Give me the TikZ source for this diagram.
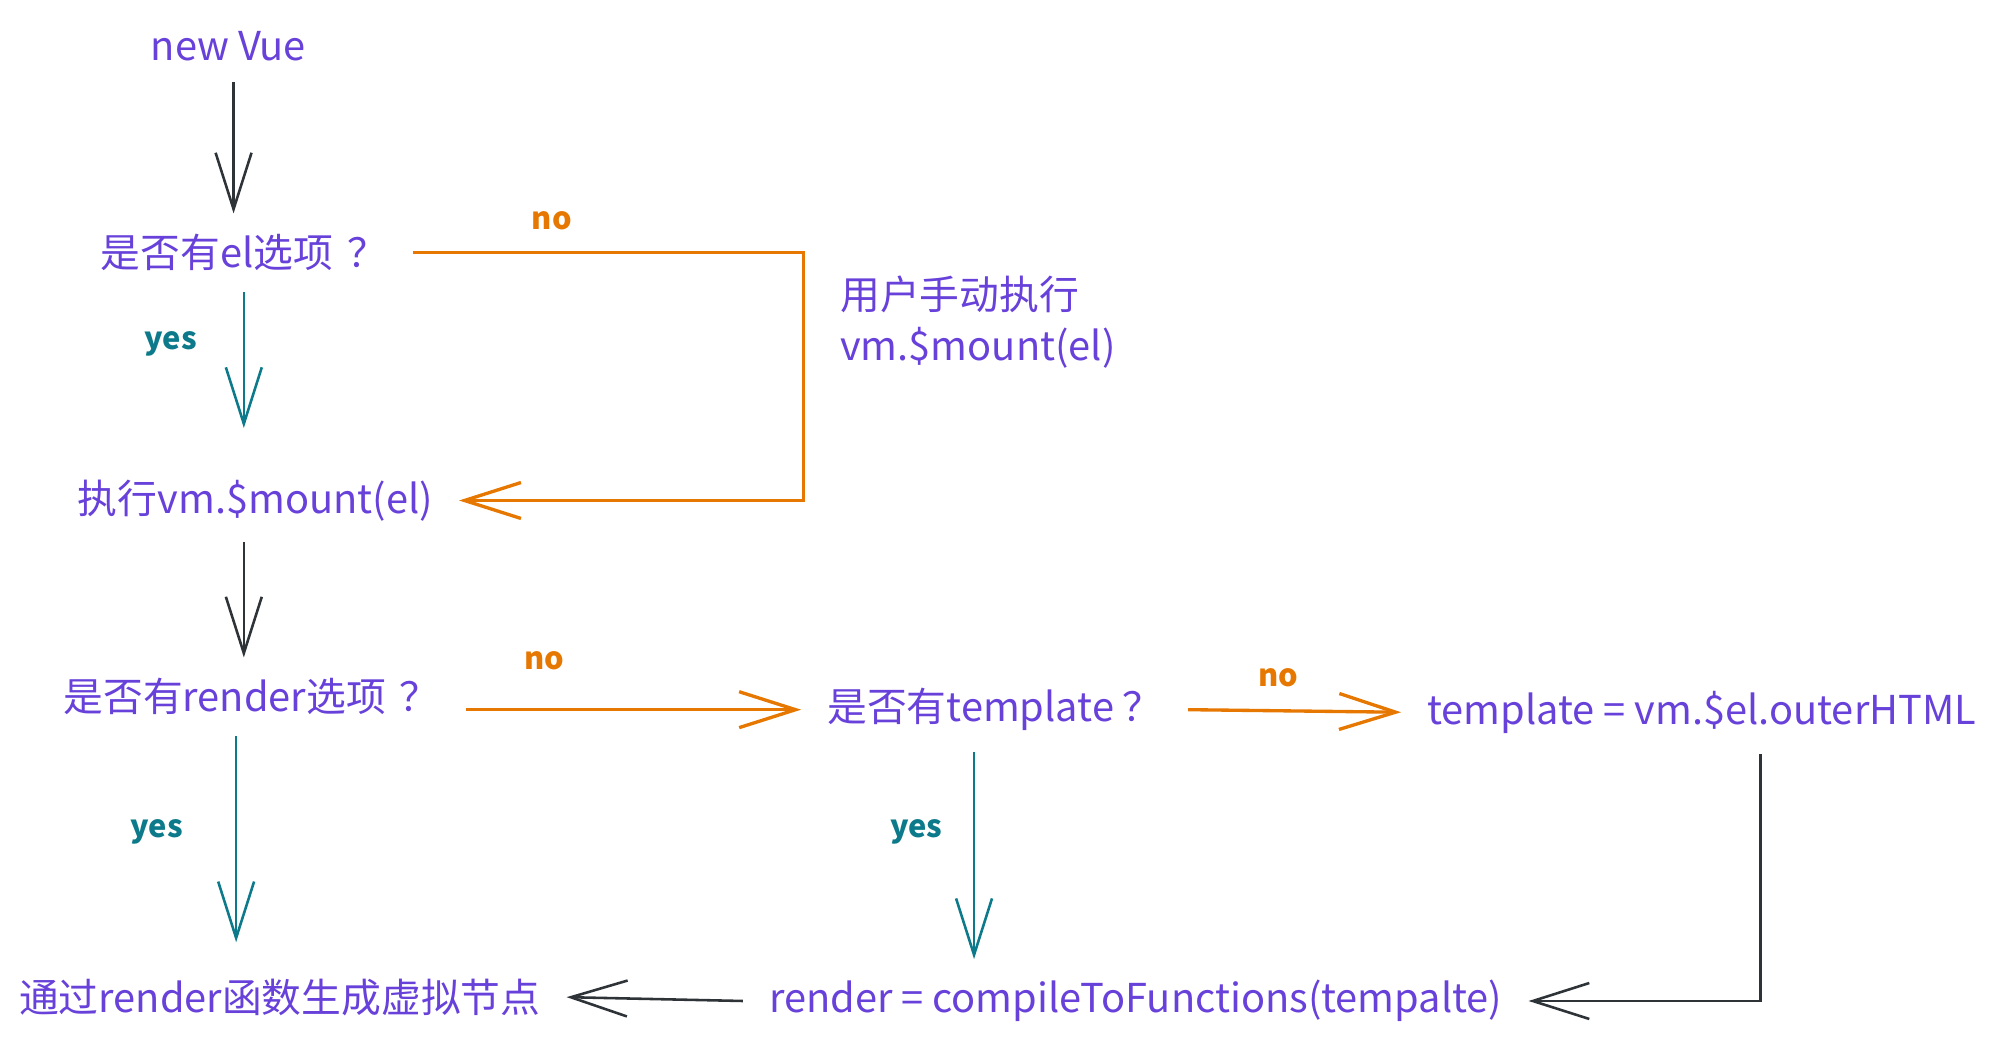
\documentclass[tikz,border=0pt]{standalone}
\usepackage{fontspec}
\setmainfont{Noto Sans CJK SC}
\usepackage{xcolor}
\usetikzlibrary{positioning}
\usetikzlibrary{arrows.meta}
\definecolor{textviolet}{HTML}{6741D9}
\definecolor{lineorange}{HTML}{E67700}
\definecolor{lineteal}{HTML}{0C7A8A}
\definecolor{linedark}{HTML}{2E3338}
\tikzset{>={Straight Barb[width=14pt,length=22pt]}}

\begin{document}
\begin{tikzpicture}[x=1pt, y=1pt, on grid, textnode/.style={text=textviolet, font=\fontsize{15.5}{20}\selectfont, inner xsep=10pt, inner ysep=8pt}, labelnode/.style={font=\fontsize{12}{14}\selectfont\bfseries, inner sep=0pt}, yesline/.style={->, draw=lineteal, line width=1pt}, noline/.style={->, draw=lineorange, line width=1.3pt}, plainline/.style={->, draw=linedark, line width=1pt}]

    \useasboundingbox (0,0) rectangle (780,-406);

    %Nodes
    \node[textnode](newvue) at (89,-18){new Vue};
    \node[textnode](has_el)[below right=80.5pt and 6pt of newvue]{是否有el选项\hspace{0.35em}？};
    \node[textnode](mount)[below right=96.5pt and 4.5pt of has_el]{执行vm.\$mount(el)};
    \node[textnode](has_render)[below left=76.5pt and 1.5pt of mount]{是否有render选项\hspace{0.35em}？};
    \node[textnode](vnode)[below right=117pt and 11pt of has_render]{通过render函数生成虚拟节点};
    \node[textnode](has_template)[below right=5pt and 289.5pt of has_render]{是否有template\hspace{0.2em}？};
    \node[textnode](outer_html)[below right=1pt and 275.5pt of has_template]{template = vm.\$el.outerHTML};
    \node[textnode](compile)[below right=113.5pt and 55pt of has_template]{render = compileToFunctions(tempalte)};
    \node[textnode, align=left](manual_text)[below right=27pt and 286pt of has_el]{用户手动执行\\vm.\$mount(el)};

    \node[labelnode, text=lineorange](no_el)[above right=12.5pt and 120pt of has_el]{no};
    \node[labelnode, text=lineteal](yes_el)[below left=35.5pt and 28.5pt of has_el]{yes};
    \node[labelnode, text=lineorange](no_render)[above right=14pt and 114pt of has_render]{no};
    \node[labelnode, text=lineteal](yes_render)[below left=52.5pt and 37pt of has_render]{yes};
    \node[labelnode, text=lineorange](no_template)[above right=12.5pt and 110.5pt of has_template]{no};
    \node[labelnode, text=lineteal](yes_template)[below left=47.5pt and 30.5pt of has_template]{yes};

    \coordinate[right=218pt of has_el](loop_corner);
    \coordinate[right=23pt of outer_html](html_bend);

    %Lines
    \draw[plainline] ([xshift=2pt]newvue.south) -- ([xshift=2pt]newvue.south |- has_el.north);
    \draw[yesline, shorten >=12pt] (has_el.south) -- (has_el.south |- mount.north);
    \draw[noline] (has_el.east) -- (has_el.east -| loop_corner) -- (loop_corner |- mount.east) -- (mount.east);
    \draw[plainline] ([xshift=-3pt]has_render.north |- mount.south) -- ([xshift=-3pt]has_render.north);
    \draw[yesline, shorten >=6pt] ([xshift=-6pt]has_render.south) -- ([xshift=-6pt]has_render.south |- vnode.north);
    \draw[noline] (has_render.east |- has_template.west) -- (has_template.west);
    \draw[noline] (has_template.east) -- (outer_html.west);
    \draw[yesline] ([xshift=-8pt]has_template.south) -- ([xshift=-8pt]has_template.south |- compile.north);
    \draw[plainline] (html_bend |- outer_html.south) -- (html_bend |- compile.east) -- (compile.east);
    \draw[plainline] (compile.west) -- (vnode.east);

\end{tikzpicture}
\end{document}
